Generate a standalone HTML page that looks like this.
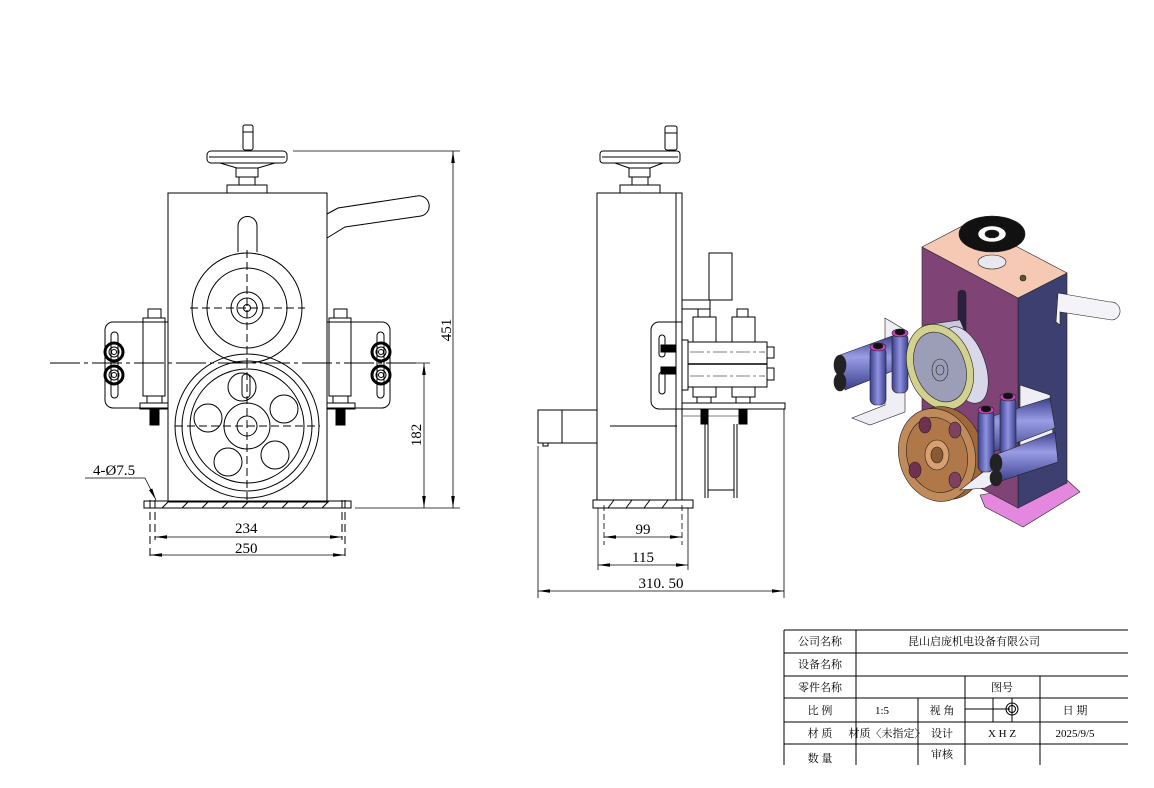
<!DOCTYPE html>
<html><head><meta charset="utf-8"><style>
html,body{margin:0;padding:0;background:#fff;}
svg{display:block;}
.t{font-family:"Liberation Serif","Noto Serif CJK SC",serif;font-size:11px;fill:#000;}
.d{font-family:"Liberation Serif","Noto Serif CJK SC",serif;font-size:15px;fill:#000;}
</style></head><body>
<svg width="1154" height="788" viewBox="0 0 1154 788" xmlns="http://www.w3.org/2000/svg">
<defs>
<marker id="a" markerWidth="12" markerHeight="6" refX="12" refY="3" orient="auto-start-reverse" markerUnits="userSpaceOnUse"><path d="M0,1.2 L12,3 L0,4.8z" fill="#000"/></marker>
<linearGradient id="rb" x1="0" y1="0" x2="1" y2="0"><stop offset="0" stop-color="#3b3f8a"/><stop offset="0.5" stop-color="#8f92e0"/><stop offset="1" stop-color="#3b3f8a"/></linearGradient>
<linearGradient id="rh" x1="0" y1="0" x2="0" y2="1"><stop offset="0" stop-color="#3b3f8a"/><stop offset="0.4" stop-color="#9a9de6"/><stop offset="1" stop-color="#3b3f8a"/></linearGradient>
</defs>
<g fill="none" stroke="#000" stroke-width="1">
<!-- FRONT VIEW -->
<rect x="243" y="125" width="10" height="25" rx="2"/>
<line x1="243" y1="132" x2="253" y2="132"/>
<rect x="207" y="151" width="80" height="12" rx="4"/>
<line x1="209" y1="157" x2="285" y2="157"/>
<path d="M220,163 L237,168 L258,168 L275,163"/>
<rect x="236" y="168" width="22" height="9"/>
<rect x="239" y="177" width="16" height="8"/>
<rect x="227" y="185" width="40" height="8"/>
<rect x="168" y="193" width="159" height="309"/>
<path d="M327,214 L338,208 L417,196 A10,10 0 0 1 421,216 L345,227 L327,238"/>
<path d="M238,252 L238,226 A9.5,9.5 0 0 1 257,226 L257,252"/>
<circle cx="247" cy="308" r="55"/><circle cx="247" cy="308" r="40"/>
<circle cx="247" cy="308" r="16"/><circle cx="247" cy="308" r="10"/><circle cx="247" cy="308" r="3.5"/>
<g stroke-dasharray="8,4"><line x1="190" y1="308" x2="305" y2="308"/><line x1="247" y1="250" x2="247" y2="362"/>
<line x1="175" y1="426" x2="320" y2="426"/><line x1="247" y1="360" x2="247" y2="500"/>
<line x1="150" y1="500" x2="150" y2="560"/><line x1="345" y1="500" x2="345" y2="560"/>
<line x1="155" y1="500" x2="155" y2="540"/><line x1="342" y1="500" x2="342" y2="540"/></g>
<circle cx="247" cy="426" r="72"/><circle cx="247" cy="426" r="65"/><circle cx="247" cy="426" r="57"/>
<circle cx="247" cy="426" r="23"/><circle cx="247" cy="426" r="10"/>
<circle cx="242" cy="387" r="14"/><circle cx="208" cy="418" r="14"/><circle cx="284" cy="409" r="14"/><circle cx="228" cy="462" r="14"/><circle cx="275" cy="455" r="14"/>
<rect x="242" y="374" width="8" height="24" rx="4"/>
<line x1="50" y1="363" x2="420" y2="363" stroke-dasharray="30,4,4,4"/>
<!-- left bracket -->
<path d="M168,322 L113,322 A8,8 0 0 0 105,330 L105,400 A8,8 0 0 0 113,408 L168,408"/>
<rect x="111" y="332" width="7" height="66" rx="3.5"/>
<rect x="143" y="318" width="22" height="78"/><rect x="148" y="309" width="13" height="9"/>
<rect x="147" y="396" width="15" height="7"/><rect x="140" y="403" width="28" height="6"/>
<rect x="150" y="409" width="9" height="16" fill="#000"/>
<!-- right bracket -->
<path d="M327,322 L382,322 A8,8 0 0 1 390,330 L390,400 A8,8 0 0 1 382,408 L327,408"/>
<rect x="377" y="332" width="7" height="66" rx="3.5"/>
<rect x="329" y="318" width="22" height="78"/><rect x="334" y="309" width="13" height="9"/>
<rect x="333" y="396" width="15" height="7"/><rect x="327" y="403" width="28" height="6"/>
<rect x="336" y="409" width="9" height="16" fill="#000"/>
<g stroke-width="3"><circle cx="114" cy="352" r="9"/><circle cx="114" cy="375" r="9"/><circle cx="381" cy="352" r="9"/><circle cx="381" cy="375" r="9"/></g>
<g><circle cx="114" cy="352" r="5"/><circle cx="114" cy="375" r="5"/><circle cx="381" cy="352" r="5"/><circle cx="381" cy="375" r="5"/>
<circle cx="114" cy="352" r="2.5"/><circle cx="114" cy="375" r="2.5"/><circle cx="381" cy="352" r="2.5"/><circle cx="381" cy="375" r="2.5"/></g>
<!-- base -->
<rect x="144" y="501" width="207" height="7"/>
<path d="M162,508 l7,-7 M182,508 l7,-7 M202,508 l7,-7 M222,508 l7,-7 M242,508 l7,-7 M262,508 l7,-7 M282,508 l7,-7 M302,508 l7,-7 M322,508 l7,-7"/>
<!-- dims front -->
<line x1="293" y1="151" x2="460" y2="151" stroke-width="0.8"/>
<line x1="355" y1="508" x2="460" y2="508" stroke-width="0.8"/>
<line x1="453" y1="151" x2="453" y2="508" marker-start="url(#a)" marker-end="url(#a)" stroke-width="0.8"/>
<line x1="400" y1="363" x2="430" y2="363" stroke-width="0.8"/>
<line x1="424" y1="363" x2="424" y2="508" marker-start="url(#a)" marker-end="url(#a)" stroke-width="0.8"/>
<line x1="155" y1="537" x2="342" y2="537" marker-start="url(#a)" marker-end="url(#a)" stroke-width="0.8"/>
<line x1="150" y1="555" x2="345" y2="555" marker-start="url(#a)" marker-end="url(#a)" stroke-width="0.8"/>
<line x1="85" y1="478" x2="145" y2="478" stroke-width="0.8"/>
<line x1="145" y1="478" x2="156" y2="500" marker-end="url(#a)" stroke-width="0.8"/>

<!-- SIDE VIEW -->
<rect x="665" y="126" width="12" height="24" rx="2"/><line x1="665" y1="133" x2="677" y2="133"/>
<rect x="600" y="151" width="80" height="12" rx="3"/><line x1="602" y1="157" x2="678" y2="157"/>
<path d="M615,163 L629,168 L650,168 L663,163"/>
<rect x="629" y="168" width="21" height="9"/><rect x="632" y="177" width="16" height="8"/>
<rect x="620" y="185" width="40" height="8"/>
<rect x="597" y="193" width="79" height="307"/>
<rect x="676" y="193" width="6" height="307"/>
<rect x="593" y="500" width="100" height="8"/>
<path d="M608,508 l6,-8 M626,508 l6,-8 M644,508 l6,-8 M662,508 l6,-8"/>
<rect x="538" y="410" width="24" height="33"/><rect x="562" y="410" width="35" height="33"/><rect x="543" y="443" width="5" height="3"/>
<line x1="610" y1="426" x2="677" y2="426"/>
<rect x="709" y="253" width="23" height="47"/>
<rect x="682" y="300" width="28" height="9"/>
<path d="M682,322 L659,322 A8,8 0 0 0 651,330 L651,401 A8,8 0 0 0 659,409 L682,409"/>
<rect x="659" y="335" width="6" height="22" rx="3"/><rect x="659" y="372" width="6" height="22" rx="3"/>
<rect x="661" y="345" width="15" height="7" fill="#000"/><rect x="661" y="367" width="15" height="7" fill="#000"/>
<rect x="682" y="340" width="6" height="50"/>
<rect x="693" y="317" width="23" height="25"/><rect x="732" y="317" width="23" height="25"/>
<rect x="698" y="309" width="12" height="8"/><rect x="737" y="309" width="11" height="8"/>
<rect x="688" y="342" width="79" height="45"/><line x1="688" y1="364" x2="767" y2="364" stroke-width="1.5"/>
<line x1="690" y1="352" x2="765" y2="352" stroke-dasharray="14,3,3,3" stroke-width="0.6"/>
<line x1="690" y1="376" x2="765" y2="376" stroke-dasharray="14,3,3,3" stroke-width="0.6"/>
<rect x="767" y="347" width="7" height="11"/><rect x="767" y="368" width="7" height="12"/>
<rect x="693" y="387" width="23" height="10"/><rect x="732" y="387" width="23" height="10"/>
<rect x="697" y="397" width="14" height="6"/><rect x="736" y="397" width="14" height="6"/>
<rect x="682" y="403" width="103" height="6"/>
<rect x="701" y="409" width="7" height="15" fill="#000"/><rect x="739" y="409" width="8" height="15" fill="#000"/>
<path d="M705,424 L705,498 M708,424 L708,498 M734,424 L734,498 M737,424 L737,498 M708,490 L734,490"/>
<line x1="683" y1="416" x2="745" y2="416" stroke-width="0.6"/>
<!-- side dims -->
<g stroke-width="0.8">
<line x1="604" y1="505" x2="604" y2="545" stroke-dasharray="6,3"/><line x1="682" y1="505" x2="682" y2="545" stroke-dasharray="6,3"/>
<line x1="598" y1="508" x2="598" y2="570"/><line x1="688" y1="508" x2="688" y2="570"/>
<line x1="604" y1="537" x2="682" y2="537" marker-start="url(#a)" marker-end="url(#a)"/>
<line x1="598" y1="565" x2="688" y2="565" marker-start="url(#a)" marker-end="url(#a)"/>
<line x1="538" y1="446" x2="538" y2="598"/><line x1="784" y1="409" x2="784" y2="598"/>
<line x1="538" y1="591" x2="784" y2="591" marker-start="url(#a)" marker-end="url(#a)"/>
</g>
</g>
<text class="d" x="93" y="475">4-Ø7.5</text>
<text class="d" x="235" y="533">234</text>
<text class="d" x="235" y="553">250</text>
<text class="d" transform="translate(451,330) rotate(-90)" text-anchor="middle">451</text>
<text class="d" transform="translate(421,435) rotate(-90)" text-anchor="middle">182</text>
<text class="d" x="643" y="534" text-anchor="middle">99</text>
<text class="d" x="643" y="562" text-anchor="middle">115</text>
<text class="d" x="661" y="588" text-anchor="middle">310. 50</text>

<!-- 3D VIEW -->
<g stroke="#222" stroke-width="0.6">
<polygon points="980,495 1067,480 1080,492 1023,527 985,507" fill="#e387df"/>
<polygon points="1018,298 1067,273 1067,483 1018,508" fill="#3c3f70"/>
<polygon points="922,247 1018,298 1018,508 922,457" fill="#7f4475"/>
<polygon points="922,247 970,222 1067,273 1018,298" fill="#f6c9b4"/>
<rect x="958" y="290" width="8" height="50" rx="4" fill="#2a2040"/>
<path d="M1058,293 L1110,302 A8,8 0 0 1 1112,320 L1060,312 L1060,325 L1056,322 Z" fill="#f4f4f8"/>
<ellipse cx="992" cy="262" rx="14" ry="7" fill="#e8e8ee"/>
<ellipse cx="992" cy="234" rx="33" ry="18" fill="#111"/>
<ellipse cx="992" cy="234" rx="14" ry="8" fill="#fff"/>
<ellipse cx="992" cy="234" rx="7" ry="4" fill="#111"/>
<circle cx="1023" cy="278" r="3" fill="#553"/>
<!-- left bracket -->
<polygon points="885,318 905,330 905,412 870,425 852,418 885,405" fill="#eeeef4"/>
<!-- left horizontal rollers -->
<path d="M840,355 L895,335 L900,368 L845,390 Z" fill="url(#rh)"/>
<ellipse cx="840" cy="365" rx="6" ry="10" fill="#222"/>
<ellipse cx="840" cy="382" rx="6" ry="9" fill="#222"/>
<rect x="870" y="347" width="16" height="58" rx="6" fill="url(#rb)"/>
<ellipse cx="878" cy="347" rx="8" ry="4" fill="#d040c0"/><ellipse cx="878" cy="346" rx="5" ry="3" fill="#111"/>
<rect x="892" y="333" width="16" height="60" rx="6" fill="url(#rb)"/>
<ellipse cx="900" cy="333" rx="8" ry="4" fill="#d040c0"/><ellipse cx="900" cy="332" rx="5" ry="3" fill="#111"/>
<!-- upper wheel -->
<path d="M925,325 L960,320 L985,380 L945,412 Z" fill="#c8c8de"/>
<ellipse cx="965" cy="365" rx="20" ry="40" transform="rotate(-20 965 365)" fill="#d8d8ea"/>
<ellipse cx="940" cy="367" rx="32" ry="44" transform="rotate(-20 940 367)" fill="#d2d28e"/>
<ellipse cx="940" cy="367" rx="25" ry="36" transform="rotate(-20 940 367)" fill="#9c9eb8"/>
<ellipse cx="940" cy="370" rx="8" ry="11" fill="none"/>
<ellipse cx="940" cy="370" rx="4" ry="5" fill="none"/>
<!-- lower wheel -->
<ellipse cx="945" cy="453" rx="38" ry="47" transform="rotate(-15 945 453)" fill="#a06838"/>
<ellipse cx="937" cy="455" rx="38" ry="47" transform="rotate(-15 937 455)" fill="#c08a5a"/>
<ellipse cx="937" cy="455" rx="30" ry="38" transform="rotate(-15 937 455)" fill="#b07848"/>
<ellipse cx="937" cy="455" rx="12" ry="15" fill="#d8a070"/>
<ellipse cx="937" cy="455" rx="6" ry="8" fill="#8a5a30"/>
<ellipse cx="925" cy="425" rx="6" ry="8" fill="#703050"/>
<ellipse cx="955" cy="430" rx="6" ry="8" fill="#804060"/>
<ellipse cx="915" cy="470" rx="6" ry="8" fill="#703050"/>
<ellipse cx="955" cy="480" rx="6" ry="8" fill="#804060"/>
<!-- right bracket -->
<polygon points="1020,385 1050,395 1055,462 1030,470 1000,480 985,488 960,490 1005,455 1020,450" fill="#eeeef4"/>
<path d="M980,420 L1050,398 L1055,428 L985,455 Z" fill="url(#rh)"/>
<rect x="978" y="410" width="16" height="62" rx="6" fill="url(#rb)"/>
<ellipse cx="986" cy="410" rx="8" ry="4" fill="#d040c0"/><ellipse cx="986" cy="409" rx="5" ry="3" fill="#111"/>
<rect x="1000" y="397" width="16" height="62" rx="6" fill="url(#rb)"/>
<ellipse cx="1008" cy="397" rx="8" ry="4" fill="#d040c0"/><ellipse cx="1008" cy="396" rx="5" ry="3" fill="#111"/>
<path d="M995,455 L1055,432 L1058,462 L998,482 Z" fill="url(#rh)"/>
<ellipse cx="996" cy="463" rx="6" ry="9" fill="#222"/><ellipse cx="996" cy="478" rx="6" ry="8" fill="#222"/>
</g>

<!-- TITLE BLOCK -->
<g stroke="#000" stroke-width="1" fill="none">
<line x1="784" y1="630" x2="1128" y2="630"/>
<line x1="784" y1="653" x2="1128" y2="653"/>
<line x1="784" y1="676" x2="1128" y2="676"/>
<line x1="784" y1="698" x2="1128" y2="698"/>
<line x1="784" y1="722" x2="1128" y2="722"/>
<line x1="784" y1="744" x2="1128" y2="744"/>
<line x1="784" y1="630" x2="784" y2="765"/>
<line x1="856" y1="630" x2="856" y2="765"/>
<line x1="918" y1="698" x2="918" y2="765"/>
<line x1="965" y1="676" x2="965" y2="765"/>
<line x1="1040" y1="676" x2="1040" y2="765"/>
<line x1="965" y1="709" x2="1010" y2="709"/>
<line x1="993" y1="698" x2="993" y2="722"/>
<line x1="1012" y1="698" x2="1012" y2="722"/>
<circle cx="1012" cy="709" r="6"/><circle cx="1012" cy="709" r="3.5"/>
</g>
<g class="t" text-anchor="middle">
<text x="820" y="645">公司名称</text>
<text x="974" y="645">昆山启庞机电设备有限公司</text>
<text x="820" y="668">设备名称</text>
<text x="820" y="691">零件名称</text>
<text x="1002" y="691">图号</text>
<text x="820" y="714">比 例</text>
<text x="882" y="714">1:5</text>
<text x="942" y="714">视 角</text>
<text x="1075" y="714">日 期</text>
<text x="820" y="737">材 质</text>
<text x="887" y="737">材质〈未指定〉</text>
<text x="942" y="737">设计</text>
<text x="1002" y="737">X H Z</text>
<text x="1075" y="737">2025/9/5</text>
<text x="820" y="762">数 量</text>
<text x="942" y="758">审核</text>
</g>
</svg>
</body></html>
